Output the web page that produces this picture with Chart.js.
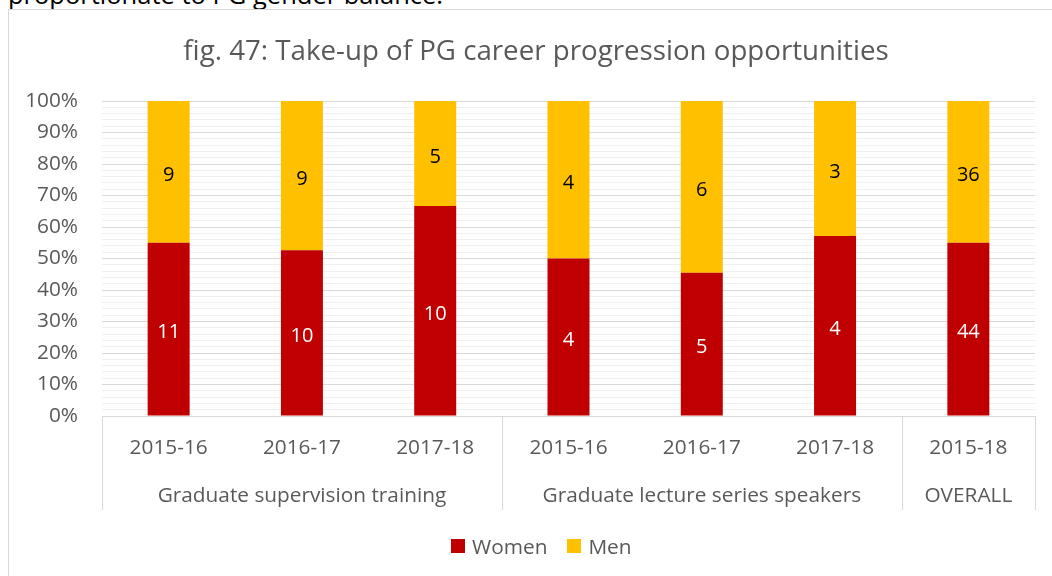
<!DOCTYPE html>
<html>
<head>
<meta charset="utf-8">
<title>Take-up of PG career progression opportunities</title>
<script src="https://cdn.jsdelivr.net/npm/chart.js@4.4.1/dist/chart.umd.min.js"></script>
<style>
  html, body { margin: 0; padding: 0; background: #fff; width: 1052px; height: 576px; overflow: hidden; }
  body { position: relative; font-family: "Open Sans", "Noto Sans", sans-serif; }
  #lead { position: absolute; left: 8px; top: -18px; font-size: 25.5px; line-height: 25.5px; color: #000; white-space: nowrap; }
  #frame { position: absolute; left: 8px; top: 9px; width: 1200px; height: 620px; border: 1px solid #d9d9d9; box-sizing: border-box; }
  #wrap { position: absolute; left: 0; top: 0; width: 1052px; height: 576px; }
  #legend { position: absolute; left: 451px; top: 532px; height: 28px; display: flex; align-items: center; font-size: 20.8px; color: #595959; }
  #legend .item { display: flex; align-items: center; margin-right: 20px; }
  #legend .sw { width: 14px; height: 14px; margin-right: 7px; }
</style>
</head>
<body>
<div id="lead">proportionate to PG gender balance.</div>
<div id="frame"></div>
<div id="wrap"><canvas id="chart" width="1052" height="576"></canvas></div>
<div id="legend"></div>
<script>
// Academic years shown under each bar
const years = ['2015-16', '2016-17', '2017-18', '2015-16', '2016-17', '2017-18', '2015-18'];
// Programme groupings along the bottom of the category axis: [label, first index, last index]
const groups = [
  ['Graduate supervision training', 0, 2],
  ['Graduate lecture series speakers', 3, 5],
  ['OVERALL', 6, 6]
];
// Head counts per bar
const women = [11, 10, 10, 4, 5, 4, 44];
const men   = [9, 9, 5, 4, 6, 3, 36];
const yTicks = [0, 10, 20, 30, 40, 50, 60, 70, 80, 90, 100];
const titleText = 'fig. 47: Take-up of PG career progression opportunities';

// Each bar is shown as a share of its own total (100% stacked)
const totals = women.map((w, i) => w + men[i]);
const womenPct = women.map((w, i) => w / totals[i] * 100);
const menPct = men.map((m, i) => m / totals[i] * 100);

const FONT = '"Open Sans", "Noto Sans", sans-serif';
const GREY = '#595959';

// Chart title, centred on the outer chart frame
const frameTitle = {
  id: 'frameTitle',
  afterDraw(chart) {
    const ctx = chart.ctx;
    ctx.save();
    ctx.font = '27.7px ' + FONT;
    ctx.fillStyle = GREY;
    ctx.textAlign = 'center';
    ctx.textBaseline = 'alphabetic';
    ctx.fillText(titleText, 536, 60);
    ctx.restore();
  }
};

// Writes the head count in the middle of every bar segment
const countLabels = {
  id: 'countLabels',
  afterDatasetsDraw(chart) {
    const ctx = chart.ctx;
    ctx.save();
    ctx.font = '20px ' + FONT;
    ctx.textAlign = 'center';
    ctx.textBaseline = 'alphabetic';
    chart.data.datasets.forEach((ds, di) => {
      const meta = chart.getDatasetMeta(di);
      meta.data.forEach((bar, i) => {
        ctx.fillStyle = ds.labelColor;
        ctx.fillText(String(ds.counts[i]), bar.x, (bar.y + bar.base) / 2 + 9);
      });
    });
    ctx.restore();
  }
};

// Two-level category axis: frame lines and the programme names
const groupAxis = {
  id: 'groupAxis',
  afterDraw(chart) {
    const ctx = chart.ctx;
    const x = chart.scales.x;
    const area = chart.chartArea;
    const step = x.getPixelForValue(1) - x.getPixelForValue(0);
    const top = area.bottom;
    const bottom = top + 94;
    ctx.save();
    ctx.strokeStyle = '#d9d9d9';
    ctx.lineWidth = 1;
    ctx.beginPath();
    ctx.moveTo(area.left, Math.round(top) + 0.5);
    ctx.lineTo(area.right, Math.round(top) + 0.5);
    const edges = [x.getPixelForValue(0) - step / 2];
    groups.forEach(g => edges.push(x.getPixelForValue(g[2]) + step / 2));
    edges.forEach(px => {
      const p = Math.round(px) + 0.5;
      ctx.moveTo(p, top);
      ctx.lineTo(p, bottom);
    });
    ctx.stroke();
    ctx.font = '20.8px ' + FONT;
    ctx.fillStyle = GREY;
    ctx.textAlign = 'center';
    ctx.textBaseline = 'alphabetic';
    groups.forEach(g => {
      const cx = (x.getPixelForValue(g[1]) + x.getPixelForValue(g[2])) / 2;
      ctx.fillText(g[0], cx, top + 86);
    });
    ctx.restore();
  }
};

function build() {
  const chart = new Chart(document.getElementById('chart'), {
    type: 'bar',
    data: {
      labels: years,
      datasets: [
        { label: 'Women', data: womenPct, counts: women, backgroundColor: '#C00000', labelColor: '#ffffff' },
        { label: 'Men', data: menPct, counts: men, backgroundColor: '#FFC000', labelColor: '#000000' }
      ]
    },
    options: {
      responsive: false,
      animation: false,
      events: [],
      layout: { padding: { left: 0, right: 17, top: 101, bottom: 66 } },
      datasets: { bar: { barPercentage: 0.315, categoryPercentage: 1 } },
      plugins: {
        legend: { display: false },
        tooltip: { enabled: false },
        title: { display: false }
      },
      scales: {
        x: {
          stacked: true,
          grid: { display: false, drawTicks: false },
          border: { display: false },
          ticks: { color: GREY, font: { family: FONT, size: 20.8 }, padding: 20, maxRotation: 0, autoSkip: false },
          afterFit(s) { s.height = 94; }
        },
        y: {
          stacked: true,
          min: 0,
          max: 100,
          border: { display: false },
          grid: {
            drawTicks: false,
            color: c => (c.tick && c.tick.value % 10 === 0) ? '#d9d9d9' : '#f0f0f0',
            lineWidth: 1
          },
          ticks: {
            stepSize: 2,
            autoSkip: false,
            padding: 24,
            color: GREY,
            font: { family: FONT, size: 20.8 },
            callback: v => yTicks.includes(v) ? v + '%' : ''
          },
          afterFit(s) { s.width = 102; }
        }
      }
    },
    plugins: [countLabels, groupAxis, frameTitle]
  });

  // Legend built from the chart's own datasets
  const legend = document.getElementById('legend');
  chart.data.datasets.forEach(ds => {
    const item = document.createElement('div');
    item.className = 'item';
    const sw = document.createElement('span');
    sw.className = 'sw';
    sw.style.background = ds.backgroundColor;
    const txt = document.createElement('span');
    txt.textContent = ds.label;
    item.appendChild(sw);
    item.appendChild(txt);
    legend.appendChild(item);
  });
}

if (document.fonts && document.fonts.load) {
  Promise.all([
    document.fonts.load('20px "Open Sans"'),
    document.fonts.load('28px "Open Sans"')
  ]).then(build, build);
} else {
  build();
}
</script>
</body>
</html>
